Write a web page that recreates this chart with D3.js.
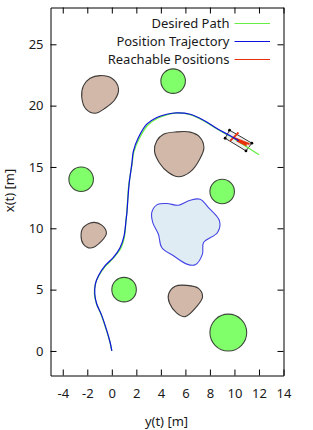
<!DOCTYPE html>
<html>
<head>
<meta charset="utf-8">
<script src="https://cdn.jsdelivr.net/npm/d3@7"></script>
<style>
body { margin: 0; background: #fff; }
text { font-family: "Noto Sans", sans-serif; font-size: 13px; fill: #1a1a1a; }
.axis path, .axis line { stroke: #000; stroke-width: 1px; }
</style>
</head>
<body>
<svg width="313" height="430"></svg>
<script>
// tick labels
var yTicks = [-4, -2, 0, 2, 4, 6, 8, 10, 12, 14];
var xTicks = [0, 5, 10, 15, 20, 25];

// round obstacles
var circleY = [5, -2.5, 9, 1, 9.5];
var circleX = [22, 14, 13, 5, 1.5];
var circleR = [1, 1, 1, 1, 1.5];

// irregular obstacles, outline
var blobAY = [-0.96, 0.0, 0.54, 0.27, -0.55, -1.36, -2.10, -2.45, -2.32, -1.77];
var blobAX = [22.45, 22.23, 21.42, 20.52, 19.79, 19.38, 19.71, 20.66, 21.61, 22.23];
var blobBY = [4.21, 5.30, 6.39, 7.15, 7.51, 7.21, 6.39, 5.44, 4.62, 3.86, 3.48, 3.67];
var blobBX = [17.67, 17.86, 17.84, 17.46, 16.59, 15.72, 14.60, 14.20, 14.55, 15.37, 16.31, 17.13];
var blobCY = [-1.50, -0.82, -0.44, -0.82, -1.72, -2.32, -2.51, -2.32];
var blobCX = [10.48, 10.26, 9.61, 8.98, 8.39, 8.71, 9.39, 10.07];
var blobDY = [5.17, 6.12, 7.07, 7.40, 6.93, 5.98, 5.30, 4.70, 4.62];
var blobDX = [5.27, 5.35, 5.10, 4.42, 3.64, 2.80, 3.09, 3.91, 4.59];

// water patch
var lakeY = [3.26, 3.67, 4.48, 5.44, 6.39, 7.20, 7.88, 8.78, 8.62, 7.48, 7.39, 6.80, 6.12, 5.03, 4.07, 3.80, 3.34];
var lakeX = [11.29, 11.91, 12.02, 11.88, 12.29, 12.37, 11.69, 10.61, 9.66, 8.84, 7.89, 7.02, 7.08, 7.76, 8.44, 9.52, 10.47];

// position trajectory
var trajY = [0, -0.14, -0.41, -0.82, -1.23, -1.39, -1.34, -1.09, -0.55, 0.13, 0.68, 1.0, 1.17, 1.22, 1.41, 1.63, 1.76, 2.17, 2.85, 3.67, 4.48, 5.3, 6.39, 7.48, 8.57, 9.66, 10.34];
var trajX = [0, 0.71, 1.66, 2.88, 3.83, 4.64, 5.46, 6.13, 6.95, 7.63, 8.44, 9.39, 10.75, 11.16, 13.6, 15.23, 16.3, 17.4, 18.49, 19.03, 19.3, 19.41, 19.3, 18.81, 18.13, 17.54, 17.13];

// desired path
var pathY = [0, -0.17, -0.47, -0.88, -1.27, -1.42, -1.32, -1.04, -0.5, 0.16, 0.73, 1.03, 1.16, 1.21, 1.39, 1.65, 1.8, 2.23, 2.92, 3.73, 4.53, 5.35, 6.45, 7.55, 8.58, 9.66, 10.6, 12];
var pathX = [0, 0.78, 1.78, 2.99, 3.91, 4.72, 5.53, 6.17, 6.93, 7.61, 8.37, 9.35, 10.75, 11.16, 13.6, 15.23, 16.25, 17.3, 18.4, 18.97, 19.27, 19.41, 19.25, 18.73, 18.09, 17.5, 16.9, 16];

// vehicle body and reachable positions
var carY = [9.6, 11.42, 10.94, 9.24];
var carX = [18.0, 16.94, 16.31, 17.34];
var reachY = [9.65, 10.33, 9.92, 11.23, 10.2, 11.0];
var reachX = [17.13, 17.8, 17.39, 16.86, 17.15, 16.75];

var legendLabels = ["Desired Path", "Position Trajectory", "Reachable Positions"];
var legendColors = ["#66ee44", "#1010e0", "#e8300c"];

var svg = d3.select("svg");

var xScale = d3.scaleLinear().domain([-5, 14]).range([50.5, 283.5]);
var yScale = d3.scaleLinear().domain([-2, 28]).range([375.5, 7.5]);

var zip = function(a, b) { return a.map(function(d, i) { return [xScale(d), yScale(b[i])]; }); };
var closedLine = d3.line().curve(d3.curveCatmullRomClosed.alpha(0.5));
var smoothLine = d3.line().curve(d3.curveCatmullRom.alpha(0.5));
var straightLine = d3.line();

// brown obstacles
[[blobAY, blobAX], [blobBY, blobBX], [blobCY, blobCX], [blobDY, blobDX]].forEach(function(b) {
    svg.append("path")
       .attr("d", closedLine(zip(b[0], b[1])))
       .attr("fill", "#d2b8a9")
       .attr("stroke", "#3d3a38")
       .attr("stroke-width", 1.1);
});

// lake
svg.append("path")
   .attr("d", closedLine(zip(lakeY, lakeX)))
   .attr("fill", "#e0ecf3")
   .attr("stroke", "#4444e6")
   .attr("stroke-width", 1.1);

// green circles
svg.selectAll(".tree")
   .data(circleY)
   .enter().append("circle")
   .attr("class", "tree")
   .attr("cx", function(d) { return xScale(d); })
   .attr("cy", function(d, i) { return yScale(circleX[i]); })
   .attr("r", function(d, i) { return xScale(circleR[i]) - xScale(0); })
   .attr("fill", "#80ff6a")
   .attr("stroke", "#3d4a3a")
   .attr("stroke-width", 1.1);

// vehicle
svg.append("path")
   .attr("d", straightLine(zip(carY, carX)) + "Z")
   .attr("fill", "#eeeeee")
   .attr("stroke", "#333")
   .attr("stroke-width", 1);

svg.selectAll(".wheel")
   .data(carY)
   .enter().append("circle")
   .attr("class", "wheel")
   .attr("cx", function(d) { return xScale(d); })
   .attr("cy", function(d, i) { return yScale(carX[i]); })
   .attr("r", 1.4)
   .attr("fill", "#000");

// desired path, trajectory
svg.append("path")
   .attr("d", smoothLine(zip(pathY, pathX)))
   .attr("fill", "none")
   .attr("stroke", legendColors[0])
   .attr("stroke-width", 1.3);

svg.append("path")
   .attr("d", straightLine(zip(reachY, reachX)))
   .attr("fill", "none")
   .attr("stroke", legendColors[2])
   .attr("stroke-width", 1.8);

svg.append("path")
   .attr("d", smoothLine(zip(trajY, trajX)))
   .attr("fill", "none")
   .attr("stroke", legendColors[1])
   .attr("stroke-width", 1.2);

// axes, ticks point inward on all four sides
var tickFmt = function(d) { return d; };

svg.append("g").attr("class", "axis")
    .attr("transform", "translate(0,375.5)")
    .call(d3.axisBottom(xScale).tickValues(yTicks).tickSizeInner(-6).tickSizeOuter(0).tickPadding(13).tickFormat(tickFmt));
svg.append("g").attr("class", "axis")
    .attr("transform", "translate(0,7.5)")
    .call(d3.axisTop(xScale).tickValues(yTicks).tickSizeInner(-6).tickSizeOuter(0).tickFormat(""));
svg.append("g").attr("class", "axis")
    .attr("transform", "translate(50.5,0)")
    .call(d3.axisLeft(yScale).tickValues(xTicks).tickSizeInner(-6).tickSizeOuter(0).tickPadding(7).tickFormat(tickFmt));
svg.append("g").attr("class", "axis")
    .attr("transform", "translate(283.5,0)")
    .call(d3.axisRight(yScale).tickValues(xTicks).tickSizeInner(-6).tickSizeOuter(0).tickFormat(""));

svg.selectAll(".axis text")
   .style("font-family", '"Noto Sans", sans-serif')
   .style("font-size", "13px")
   .style("fill", "#1a1a1a");

// axis titles
svg.append("text")
   .attr("x", 166.5)
   .attr("y", 425.5)
   .attr("text-anchor", "middle")
   .text("y(t) [m]");

svg.append("text")
   .attr("transform", "translate(14,190.5) rotate(-90)")
   .attr("text-anchor", "middle")
   .text("x(t) [m]");

// legend
legendLabels.forEach(function(d, i) {
    var ly = 23.5 + i * 18;
    svg.append("text")
       .attr("x", 229.5)
       .attr("y", ly + 4.5)
       .attr("text-anchor", "end")
       .text(d);
    svg.append("line")
       .attr("x1", 234.5)
       .attr("x2", 270)
       .attr("y1", ly)
       .attr("y2", ly)
       .attr("stroke", legendColors[i])
       .attr("stroke-width", 1);
});
</script>
</body>
</html>
